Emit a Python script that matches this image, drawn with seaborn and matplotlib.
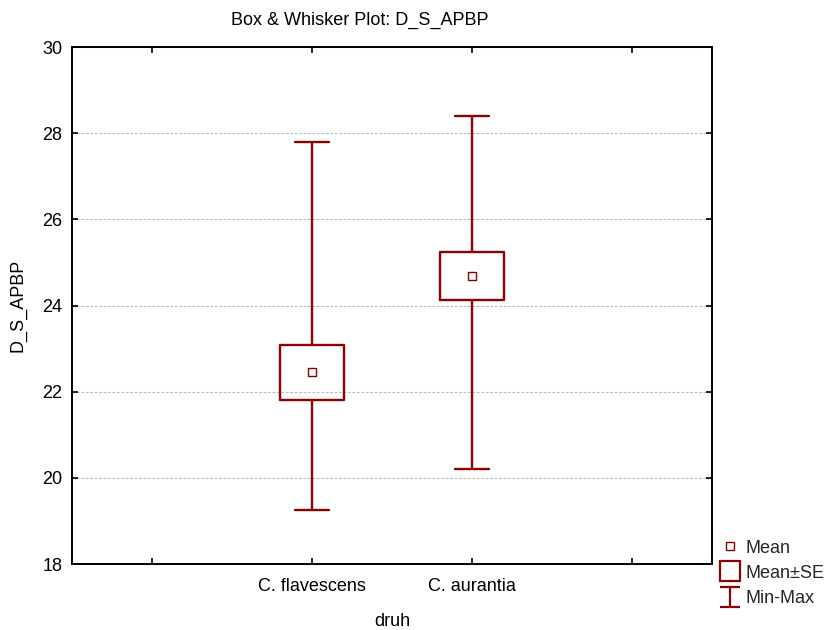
import numpy as np
import pandas as pd
import seaborn as sns
import matplotlib
matplotlib.use("Agg")
import matplotlib.pyplot as plt
from matplotlib.lines import Line2D
from matplotlib.path import Path

# Summary statistics of D_S_APBP per species
species = ["C. flavescens", "C. aurantia"]
means = [22.445, 24.685]
se_low = [21.81, 24.13]
se_high = [23.08, 25.24]
mins = [19.25, 20.20]
maxs = [27.80, 28.40]

RED = "#8b0000"

sns.set_theme(style="white")
plt.rcParams["font.family"] = ["Liberation Sans", "DejaVu Sans"]

# Five summary values per species: quartiles land on Mean±SE, whiskers on Min/Max
rows = []
for sp, lo_, m, hi_, mn, mx in zip(species, se_low, means, se_high, mins, maxs):
    for v in (mn, lo_, m, hi_, mx):
        rows.append({"druh": sp, "D_S_APBP": v})
df = pd.DataFrame(rows)
mean_df = pd.DataFrame({"druh": species, "D_S_APBP": means})

fig = plt.figure(figsize=(8.34, 6.3), dpi=100)
ax = fig.add_axes([72 / 834, 1 - 564 / 630, 640 / 834, 517 / 630])

sns.boxplot(
    data=df, x="druh", y="D_S_APBP", order=species, ax=ax,
    whis=(0, 100), width=0.4, fill=False, color=RED, linecolor=RED,
    linewidth=1.7, showfliers=False, capwidths=0.21,
    medianprops=dict(visible=False),
)
sns.scatterplot(
    data=mean_df, x="druh", y="D_S_APBP", ax=ax, marker="s", s=40,
    facecolor="white", edgecolor=RED, linewidth=1.0, zorder=5, legend=False,
)

ax.set_xlim(-1.5, 2.5)
ax.set_ylim(18, 30)
ax.set_xticks([-1, 0, 1, 2])
ax.set_xticklabels(["", species[0], species[1], ""])
ax.set_yticks(np.arange(18, 31, 2))
ax.yaxis.grid(True, color="#bdbdbd", linestyle=(0, (2.5, 1.5)), linewidth=0.8)
ax.xaxis.grid(False)
ax.set_axisbelow(True)
ax.tick_params(axis="both", direction="in", length=4, width=1.2, color="black",
               labelsize=13, labelcolor="black", pad=7,
               top=True, right=True, bottom=True, left=True)
ax.tick_params(axis="x", pad=10)
for s in ax.spines.values():
    s.set_color("black")
    s.set_linewidth(1.4)

ax.set_xlabel("druh", fontsize=13, color="black", labelpad=13)
ax.set_ylabel("D_S_APBP", fontsize=13, color="black", labelpad=11)
fig.text(360 / 834, 1 - 20 / 630, "Box & Whisker Plot: D_S_APBP",
         ha="center", va="center", fontsize=13, color="black")

# Legend handles
ibeam = Path([(-1, 1), (1, 1), (0, 1), (0, -1), (-1, -1), (1, -1)],
             [Path.MOVETO, Path.LINETO, Path.MOVETO, Path.LINETO, Path.MOVETO, Path.LINETO])
handles = [
    Line2D([], [], ls="none", marker="s", ms=6, mfc="white", mec=RED, mew=1.0),
    Line2D([], [], ls="none", marker="s", ms=14, mfc="white", mec=RED, mew=1.6),
    Line2D([], [], ls="none", marker=ibeam, ms=14, mfc="none", mec=RED, mew=1.6),
]
fig.legend(handles, ["Mean", "Mean±SE", "Min-Max"], loc="upper left",
           bbox_to_anchor=(716 / 834, 1 - 536 / 630), frameon=False,
           fontsize=13, handlelength=1.1, handletextpad=0.35, labelspacing=0.45,
           borderpad=0.2, borderaxespad=0)

fig.savefig("out.png", dpi=100)
